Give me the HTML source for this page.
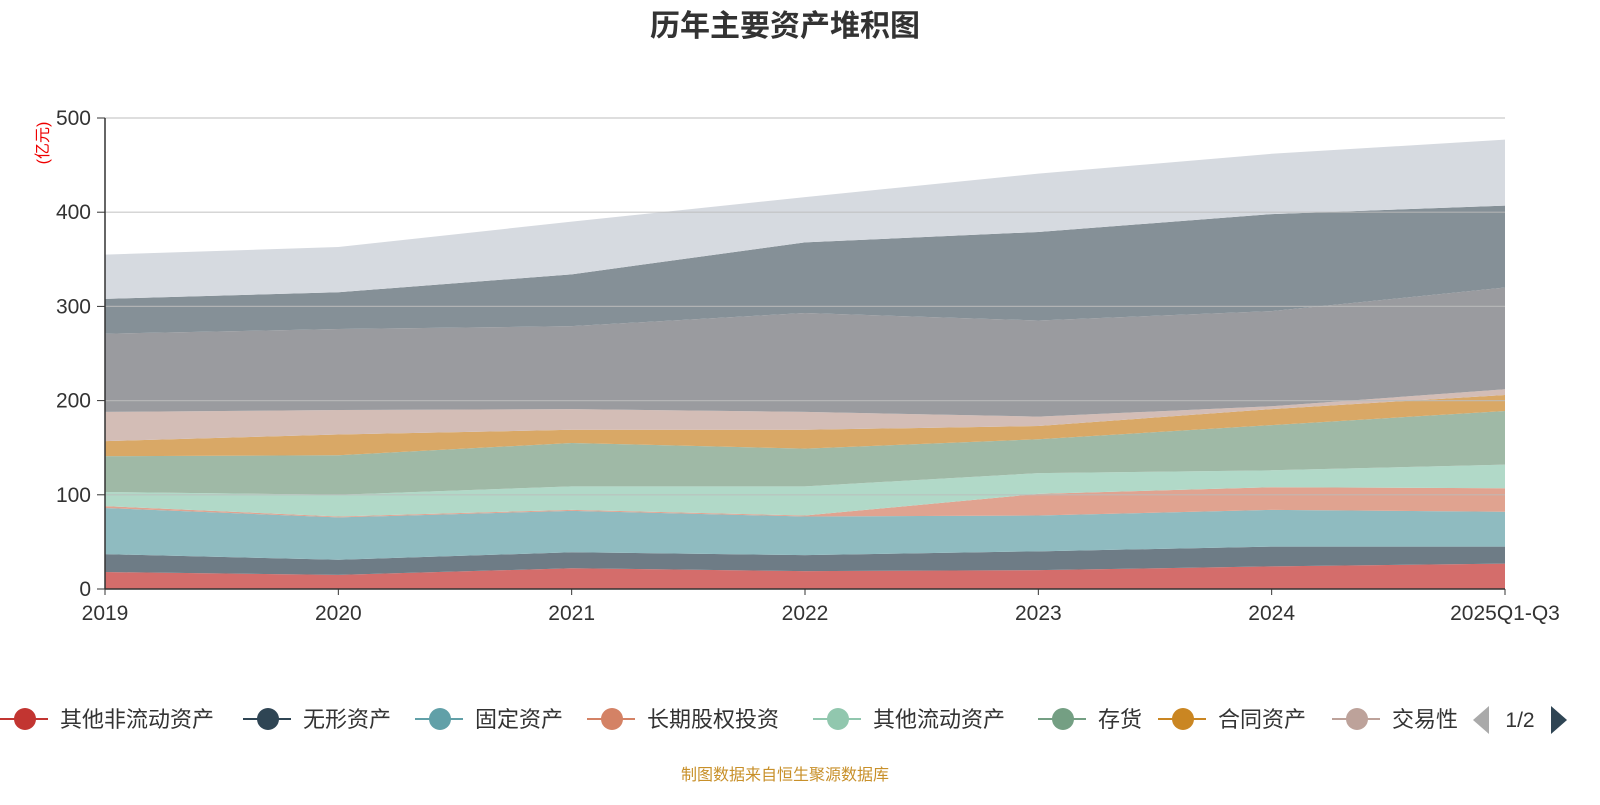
<!DOCTYPE html>
<html><head><meta charset="utf-8"><style>
body{margin:0;background:#fff;font-family:"Liberation Sans","Noto Sans CJK SC",sans-serif;}
svg text{font-family:"Liberation Sans","Noto Sans CJK SC",sans-serif;}
</style></head><body>
<svg id="chart" width="1600" height="800" xmlns="http://www.w3.org/2000/svg">
<text x="785" y="36" text-anchor="middle" font-size="30" font-weight="bold" fill="#333">历年主要资产堆积图</text>
<text transform="translate(48,143) rotate(-90)" text-anchor="middle" font-size="16" fill="#e00">(亿元)</text>
<g id="areas"></g><g id="grid"></g><g id="axes"></g><g id="legend"></g>
<text x="785" y="780" text-anchor="middle" font-size="16" fill="#c8902a">制图数据来自恒生聚源数据库</text>
</svg>
<script>
const categories=["2019","2020","2021","2022","2023","2024","2025Q1-Q3"];
const yTicks=[0,100,200,300,400,500];
const s1=[18,15,22,19,20,24,27];
const s2=[19,16,17,17,20,21,18];
const s3=[49,45,44,41,38,39,37];
const s4=[2,1,1,1,23,24,25];
const s5=[15,23,25,31,22,18,25];
const s6=[38,42,46,40,36,48,57];
const s7=[16,22,14,20,14,17,17];
const s8=[31,26,22,19,10,3,6];
const s9=[83,86,88,105,102,101,108];
const s10=[37,39,55,75,94,103,87];
const s11=[47,48,56,48,62,64,70];
const seriesNames=["其他非流动资产","无形资产","固定资产","长期股权投资","其他流动资产","存货","合同资产","交易性金融资产","应收账款","货币资金","其他"];
const series=[s1,s2,s3,s4,s5,s6,s7,s8,s9,s10,s11];
const fills=["#d46d6b","#6e7c86","#8fbbc0","#e0a390","#b1d9c8","#9fb9a6","#d9a866","#d3bdb6","#9a9b9f","#859097","#d6dae0"];
const legendColors=["#c23531","#2f4554","#61a0a8","#d48265","#91c7ae","#749f83","#ca8622","#bda29a"];
const NS="http://www.w3.org/2000/svg";
const X0=105,X1=1505,Y0=589,Y1=118;
const x=i=>X0+(X1-X0)*i/(categories.length-1);
const y=v=>Y0-(Y0-Y1)*v/500;
function mk(t,a,p){const e=document.createElementNS(NS,t);for(const k in a)e.setAttribute(k,a[k]);p.appendChild(e);return e;}
const areas=document.getElementById('areas');
let base=categories.map(()=>0);
series.forEach((s,si)=>{
  const top=base.map((b,i)=>b+s[i]);
  let d=top.map((v,i)=>(i?'L':'M')+x(i)+','+y(v)).join('');
  for(let i=categories.length-1;i>=0;i--)d+='L'+x(i)+','+y(base[i]);
  const p=mk('path',{d:d+'Z',fill:fills[si]},areas);
  
  
  base=top;
});
const grid=document.getElementById('grid'),axes=document.getElementById('axes');
yTicks.forEach(t=>{
  if(t>0){const l=mk('line',{x1:X0,x2:X1,y1:y(t),y2:y(t),stroke:'#bbb','stroke-width':1.2,'stroke-opacity':0.8},grid);
  }
  mk('line',{x1:X0-8,x2:X0,y1:y(t),y2:y(t),stroke:'#333'},axes);
  const tx=mk('text',{x:X0-14,y:y(t)+7,'text-anchor':'end','font-size':21,fill:'#333'},axes);
  tx.textContent=t;
  
});
mk('line',{x1:X0,x2:X0,y1:Y1,y2:Y0,stroke:'#333','stroke-width':1.5},axes);
mk('line',{x1:X0,x2:X1,y1:Y0,y2:Y0,stroke:'#333','stroke-width':1.5},axes);
categories.forEach((c,i)=>{
  mk('line',{x1:x(i),x2:x(i),y1:Y0,y2:Y0+6,stroke:'#333'},axes);
  const tx=mk('text',{x:x(i),y:Y0+31,'text-anchor':'middle','font-size':21,fill:'#333'},axes);
  tx.textContent=c;
  
});
const lg=document.getElementById('legend');
const lx=[25,268,440,612,838,1063,1183,1357];
lx.forEach((cx,i)=>{
  const g=mk('g',{},lg);
  
  
  mk('line',{x1:cx-25,x2:cx+23,y1:719,y2:719,stroke:legendColors[i],'stroke-width':2},g);
  mk('circle',{cx:cx,cy:719,r:11,fill:legendColors[i]},g);
  const t=mk('text',{x:cx+35,y:727,'font-size':22,fill:'#333'},g);
  t.textContent=i===7?'交易性':seriesNames[i];
});
const pl=mk('path',{d:'M1489,706 L1489,734 L1473,720Z',fill:'#aaa'},lg);

const pt=mk('text',{x:1520,y:727,'text-anchor':'middle','font-size':21,fill:'#333'},lg);
pt.textContent='1/2';

const pr=mk('path',{d:'M1551,706 L1551,734 L1567,720Z',fill:'#2f4554'},lg);

</script>
</body></html>
